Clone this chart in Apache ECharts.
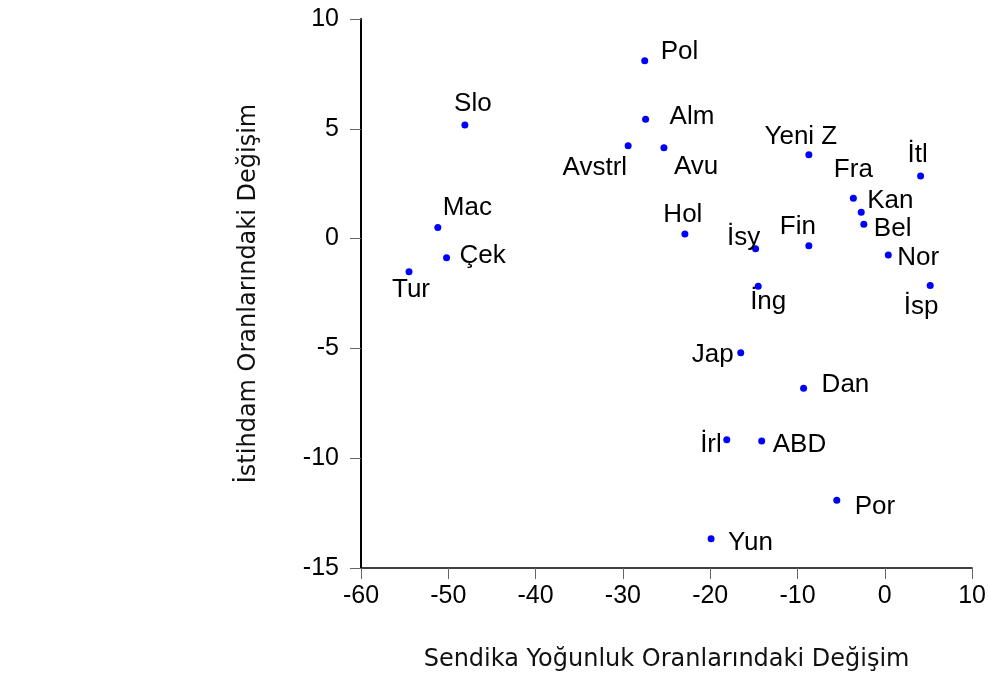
<!DOCTYPE html>
<html>
<head>
<meta charset="utf-8">
<title>Sendika - İstihdam</title>
<script src="https://cdn.jsdelivr.net/npm/echarts@6/dist/echarts.min.js"></script>
<style>
  html, body { margin: 0; padding: 0; background: #fff; }
  #chart { width: 989px; height: 680px; }
</style>
</head>
<body>
<div id="chart"></div>
<script>
// ülke kısaltmaları
var countries = ['Pol', 'Alm', 'Avstrl', 'Avu', 'Slo', 'Mac', 'Çek', 'Tur', 'Hol', 'İsy', 'Fin', 'İng',
                 'Yeni Z', 'Fra', 'Kan', 'Bel', 'İtl', 'Nor', 'İsp', 'Jap', 'Dan', 'İrl', 'ABD', 'Por', 'Yun'];
// sendika yoğunluk oranındaki değişim
var unionChange = [-27.5, -27.4, -29.4, -25.3, -48.1, -51.2, -50.2, -54.5, -22.9, -14.8, -8.7, -14.5,
                   -8.7, -3.6, -2.7, -2.4, 4.1, 0.4, 5.2, -16.5, -9.3, -18.1, -14.1, -5.5, -19.9];
// istihdam oranındaki değişim
var employChange = [8.1, 5.43, 4.23, 4.14, 5.17, 0.5, -0.87, -1.51, 0.21, -0.46, -0.32, -2.17,
                    3.82, 1.84, 1.2, 0.65, 2.85, -0.75, -2.14, -5.2, -6.82, -9.16, -9.22, -11.92, -13.67];
var xTicks = [-60, -50, -40, -30, -20, -10, 0, 10];
var yTicks = [-15, -10, -5, 0, 5, 10];

// etiket yerleşimi: [hizalama, dx, dy]
var labelPos = [
  ['left', 16, -9], ['left', 24, -3], ['right', -1, 22], ['left', 10, 19], ['center', 8, -21],
  ['left', 5, -20], ['left', 13, -2], ['center', 2, 18], ['center', -2, -19], ['center', -12, -11],
  ['center', -11, -19], ['center', 10, 16], ['center', -8, -18], ['center', 0, -28], ['left', 6, -11],
  ['left', 10, 5], ['center', -3, -21], ['left', 9, 3], ['center', -9, 21], ['right', -7, 2],
  ['left', 18, -4], ['right', -5, 5], ['left', 11, 4], ['left', 18, 6], ['left', 17, 4]
];

var font = 'Liberation Sans, Arial, sans-serif';
var titleFont = 'DejaVu Sans, sans-serif';

var points = countries.map(function (c, i) {
  return {
    name: c,
    value: [unionChange[i], employChange[i]],
    label: {
      align: labelPos[i][0],
      offset: [labelPos[i][1], labelPos[i][2]]
    }
  };
});

var chart = echarts.init(document.getElementById('chart'));
var option = {
  animation: false,
  backgroundColor: '#fff',
  grid: { left: 361, right: 15, top: 19, bottom: 112 },
  xAxis: {
    type: 'value',
    min: xTicks[0], max: xTicks[xTicks.length - 1], interval: 10,
    name: 'Sendika Yoğunluk Oranlarındaki Değişim',
    nameLocation: 'middle', nameGap: 80,
    nameTextStyle: { fontFamily: titleFont, fontSize: 24, color: '#111' },
    splitLine: { show: false },
    axisLine: { onZero: false, lineStyle: { color: '#000', width: 1.5 } },
    axisTick: { length: 11, lineStyle: { color: '#666', width: 1 } },
    axisLabel: { fontFamily: font, fontSize: 25, color: '#000', margin: 16 }
  },
  yAxis: {
    type: 'value',
    min: yTicks[0], max: yTicks[yTicks.length - 1], interval: 5,
    name: 'İstihdam Oranlarındaki Değişim',
    nameLocation: 'middle', nameGap: 100,
    nameTextStyle: { fontFamily: titleFont, fontSize: 24, color: '#111' },
    splitLine: { show: false },
    axisLine: { onZero: false, lineStyle: { color: '#000', width: 2 } },
    axisTick: { length: 11, lineStyle: { color: '#666', width: 1 } },
    axisLabel: { fontFamily: font, fontSize: 25, color: '#000', margin: 22 }
  },
  series: [{
    type: 'scatter',
    symbolSize: 7,
    itemStyle: { color: '#0000ff', opacity: 1 },
    label: {
      show: true,
      position: 'inside',
      verticalAlign: 'middle',
      formatter: '{b}',
      fontFamily: font,
      fontSize: 26,
      color: '#000'
    },
    data: points
  }]
};
chart.setOption(option);
</script>
</body>
</html>
